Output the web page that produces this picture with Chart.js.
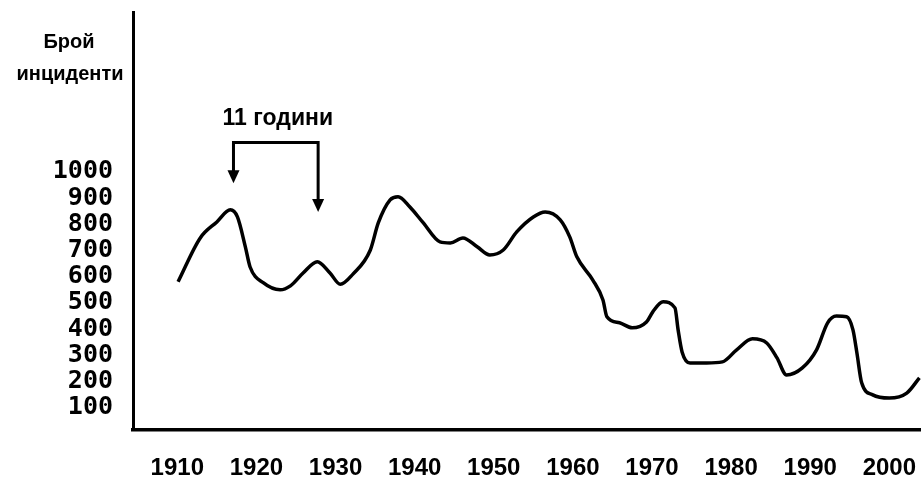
<!DOCTYPE html>
<html>
<head>
<meta charset="utf-8">
<script src="https://cdn.jsdelivr.net/npm/chart.js@4.4.1/dist/chart.umd.min.js"></script>
<style>
  html, body { margin: 0; padding: 0; background: #fff; }
  #wrap { width: 921px; height: 480px; }
</style>
</head>
<body>
<div id="wrap"><canvas id="incChart"></canvas></div>
<script>
// години и брой инциденти, отчетени от графиката
var years = [1910.1, 1912.9, 1915.0, 1916.7, 1917.6, 1918.6, 1919.2, 1920.9, 1923.0, 1924.3,
  1925.9, 1927.7, 1929.3, 1930.6, 1932.2, 1934.4, 1935.4, 1936.9, 1937.9, 1939.4,
  1941.1, 1943.2, 1944.5, 1946.1, 1947.9, 1949.5, 1951.2, 1952.9, 1955.0, 1956.5,
  1958.4, 1959.6, 1960.5, 1962.5, 1963.8, 1964.3, 1965.9, 1967.5, 1969.3, 1970.1,
  1971.4, 1972.9, 1973.3, 1973.8, 1974.8, 1976.9, 1978.9, 1980.7, 1982.7, 1984.5,
  1985.8, 1987.0, 1989.0, 1990.8, 1992.2, 1993.3, 1994.6, 1995.4, 1995.9, 1996.5,
  1997.9, 2000.0, 2002.2, 2003.8];
var incidents = [581, 748, 809, 855, 828, 714, 637, 576, 550, 565,
  614, 657, 614, 571, 610, 702, 805, 893, 905, 866,
  805, 733, 729, 748, 714, 683, 702, 771, 828, 847,
  817, 752, 676, 588, 511, 447, 424, 405, 427, 466,
  504, 481, 397, 313, 271, 271, 275, 321, 363, 347,
  290, 225, 252, 321, 424, 450, 447, 397, 309, 195,
  149, 137, 156, 214];

var yearTicks = [1910, 1920, 1930, 1940, 1950, 1960, 1970, 1980, 1990, 2000];
var countTicks = [100, 200, 300, 400, 500, 600, 700, 800, 900, 1000];

var yTitle = ['Брой', 'инциденти'];
var cycleLabel = '11 години';
// пик 1917 -> пик 1928
var cycleFrom = { x: 1917.1, y: 957 };
var cycleTo = { x: 1927.8, y: 847 };
var cycleTop = 1112;

var points = years.map(function (yr, i) { return { x: yr, y: incidents[i] }; });

// надписи и стрелка за цикъла
var notesPlugin = {
  id: 'notes',
  afterDraw: function (chart) {
    var ctx = chart.ctx;
    var xs = chart.scales.x, ys = chart.scales.y;
    ctx.save();
    ctx.fillStyle = '#000';
    ctx.strokeStyle = '#000';

    ctx.font = 'bold 20px "Liberation Sans", Arial, sans-serif';
    ctx.textAlign = 'center';
    ctx.textBaseline = 'alphabetic';
    ctx.fillText(yTitle[0], 69, 48);
    ctx.fillText(yTitle[1], 70, 80);

    var x1 = xs.getPixelForValue(cycleFrom.x);
    var x2 = xs.getPixelForValue(cycleTo.x);
    var yt = ys.getPixelForValue(cycleTop);
    var y1 = ys.getPixelForValue(cycleFrom.y);
    var y2 = ys.getPixelForValue(cycleTo.y);

    ctx.font = 'bold 23px "Liberation Sans", Arial, sans-serif';
    ctx.fillText(cycleLabel, (x1 + x2) / 2 + 2, 125);

    ctx.lineWidth = 3;
    ctx.beginPath();
    ctx.moveTo(x1, y1 - 10);
    ctx.lineTo(x1, yt);
    ctx.lineTo(x2, yt);
    ctx.lineTo(x2, y2 - 10);
    ctx.stroke();

    [[x1, y1], [x2, y2]].forEach(function (p) {
      ctx.beginPath();
      ctx.moveTo(p[0] - 6, p[1] - 13);
      ctx.lineTo(p[0] + 6, p[1] - 13);
      ctx.lineTo(p[0], p[1]);
      ctx.closePath();
      ctx.fill();
    });
    ctx.restore();
  }
};

var ctx = document.getElementById('incChart').getContext('2d');
var incChart = new Chart(ctx, {
  type: 'line',
  data: {
    datasets: [{
      data: points,
      borderColor: '#000',
      borderWidth: 3.5,
      pointRadius: 0,
      cubicInterpolationMode: 'monotone',
      fill: false
    }]
  },
  options: {
    responsive: true,
    maintainAspectRatio: false,
    animation: false,
    layout: { padding: { top: 12, left: 0, right: 0, bottom: 0 } },
    plugins: {
      legend: { display: false },
      tooltip: { enabled: false }
    },
    scales: {
      x: {
        type: 'linear',
        min: 1904.4,
        max: 2004,
        afterBuildTicks: function (scale) {
          scale.ticks = yearTicks.map(function (v) { return { value: v }; });
        },
        afterFit: function (scale) {
          scale.height = 50;
          scale.paddingLeft = 0;
          scale.paddingRight = 0;
        },
        grid: { display: false, drawTicks: false },
        border: { display: true, color: '#000', width: 3.5 },
        ticks: {
          color: '#000',
          padding: 24,
          maxRotation: 0,
          autoSkip: false,
          font: { family: '"Liberation Sans", Arial, sans-serif', size: 24, weight: 'bold' },
          callback: function (v) { return String(v); }
        }
      },
      y: {
        min: 15,
        max: 1610,
        afterBuildTicks: function (scale) {
          scale.ticks = countTicks.map(function (v) { return { value: v }; });
        },
        afterFit: function (scale) {
          scale.width = 133;
          scale.paddingTop = 0;
          scale.paddingBottom = 0;
        },
        grid: { display: false, drawTicks: false },
        border: { display: true, color: '#000', width: 3 },
        ticks: {
          color: '#000',
          padding: 20,
          autoSkip: false,
          font: { family: '"DejaVu Sans Mono", monospace', size: 25, weight: 'bold' },
          callback: function (v) { return String(v); }
        }
      }
    }
  },
  plugins: [notesPlugin]
});
</script>
</body>
</html>
